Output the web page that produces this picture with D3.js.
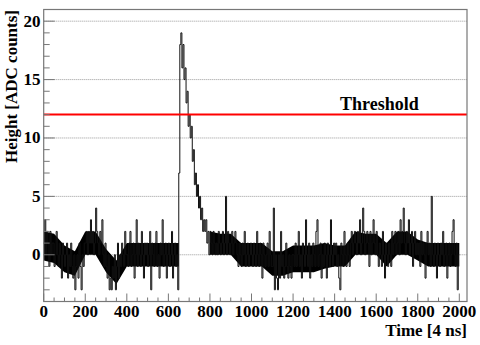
<!DOCTYPE html>
<html>
<head>
<meta charset="utf-8">
<script src="https://cdn.jsdelivr.net/npm/d3@7"></script>
<style>
  body { margin: 0; background: #fff; }
  text { font-family: "Liberation Serif", "Times New Roman", Times, serif; font-weight: bold; fill: #000; }
</style>
</head>
<body>
<div id="chart"></div>
<script>
// ----------------------------- DATA -----------------------------------------
// waveform, one value every 5 time units [4 ns]
var binWidth = 5;

// 0 - 645
var noiseBefore = [
    1, 3, 0, 2, 1, -1, 2, 0, 1, 1, -1, 0, 2, 0, -1, 1, 0, -2, 1, 0,
    -1, 0, 1, -2, 0, -1, 1, -1, -2, 0, -3, -1, 0, -2, 1, -1, -3, 0, -1, 1,
    1, 2, 0, 2, 1, 3, 1, 2, 0, 1, 4, 2, 1, 0, 2, 1, 3, 0, -1, 1,
    -1, -2, 0, -3, -2, -3, -1, -2, 0, -3, -1, 1, -2, 0, -1, 1, 0, -1, 2, 0,
    0, -1, 1, 2, -1, 0, 1, -2, 0, 3, -1, 1, 0, -1, 2, 0, -2, 1, 0, 1,
    -1, 0, 2, -3, 1, 0, -1, 1, 2, -1, 0, -2, 1, 0, 3, -1, 0, 1, -2, 0,
    1, -1, 0, 2, -2, 0, 1, -1, 0, -3
];

// 650 - 825
var pulse = [
    7, 18, 19, 16, 18, 15, 16, 13, 14, 11, 12, 10, 11, 8, 9, 6, 7, 5,
    6, 4, 5, 3, 4, 2, 3, 2, 3, 1, 2, 0, 2, 1, 0, 2, 1, 0
];

// 830 - 1995
var noiseAfter = [
    1, 0, 2, 1, 0, 1, 2, 0, 1, 5, 0, 2, 1, 0,
    1, 2, 0, 1, 2, 1, 0, -1, 1, 0, -1, 1, 0, 2, -1, 0, 1, -1, 0, 1,
    0, -1, 1, 0, -1, 2, 0, -1, 1, 0, -2, 1, 0, -1, 0, 1, -1, 2, 0, -1,
    -1, 4, -3, 0, -2, -3, 0, -2, 2, -1, 0, -2, -1, 1, -1, -2, 0, -1, -2, 0,
    0, -1, 1, -1, 0, 2, -1, 0, -2, 1, 0, -1, 3, 0, -1, 1, -2, 0, -1, 1,
    0, -1, 2, 3, -1, 0, 1, -2, 0, -1, 1, 0, -2, 1, 0, -1, 3, 0, -1, 1,
    0, 1, -1, 0, -2, -3, 1, 0, -1, 2, 0, -1, 1, 0, -1, 1, 2, 0, 1, 2,
    1, 0, 2, 1, 3, 0, 1, 4, 2, 0, 1, 2, 1, -1, 2, 0, 1, 3, 1, 0,
    2, 0, -1, 1, 0, -1, 2, 0, -2, 1, 0, -1, 1, 0, -1, 2, 0, 1, 2, 0,
    1, 2, 0, 3, 1, 2, 4, 1, 0, 2, 1, 3, 0, 1, 2, -1, 1, 2, 0, 1,
    0, 1, -1, 2, 0, 1, 0, -2, 1, 2, 0, 1, -1, 5, 0, -1, 1, 0, -2, 1,
    0, -1, 1, 0, 2, -1, 0, 1, -2, 0, 1, -1, 0, 2, 3, 0, -1, 1, -3, 0
];

// solid black part of the noise band, every 50 time units (null = pulse)
var bandTimes = [0, 50, 100, 150, 200, 250, 300, 350, 400, 450, 500, 550, 600, 650,
    700, 750, 800, 850, 900, 950, 1000, 1050, 1100, 1150, 1200, 1250, 1300, 1350,
    1400, 1450, 1500, 1550, 1600, 1650, 1700, 1750, 1800, 1850, 1900, 1950, 2000];
var bandLow = [-0.5, -0.7, -1.5, -1.8, 0, 0, -1.5, -2.5, -1, -1, -1, -1, -1, -1,
    null, null, 0, 0, 0, -1, -1, -1, -1.8, -1.8, -1.5, -1.5, -1.5, -1.2,
    -1, -1, 0, 0, 0, -1, 0, 0, -0.5, -1, -1, -1, -1];
var bandHigh = [2, 1.8, 0.8, 0.3, 2, 2, 0.5, -0.5, 1, 1, 1, 1, 1, 1,
    null, null, 2, 1.8, 1.8, 1, 1, 1, 0.3, 0.3, 0.8, 0.8, 0.8, 1,
    0.8, 0.8, 2, 1.8, 1.8, 1, 2, 2, 1.3, 1, 1, 1, 1];

var xTicks = [0, 200, 400, 600, 800, 1000, 1200, 1400, 1600, 1800, 2000];
var yTicks = [0, 5, 10, 15, 20];
var threshold = 12;

// ----------------------------- SVG SETUP ------------------------------------
(function() {
    var width = 480,
        height = 345;

    var svg = d3.select("#chart")
        .append("svg")
        .attr("width", width)
        .attr("height", height);

    var left = 43.7, right = 467, top = 9.5, bottom = 301.5;

    var x = d3.scaleLinear().domain([0, 2037]).range([left, right]);
    var y = d3.scaleLinear().domain([-4, 21]).range([bottom, top]);

    // grid (horizontal only, dotted)
    svg.append("g")
        .selectAll("line")
        .data(yTicks)
        .enter().append("line")
        .attr("x1", left).attr("x2", right)
        .attr("y1", function(d) { return y(d); })
        .attr("y2", function(d) { return y(d); })
        .attr("stroke", "#999")
        .attr("stroke-width", 1)
        .attr("stroke-dasharray", "1,1");

    // ------------------------- WAVEFORM -------------------------------------
    // dense noise band (the 2000 bins blur into a solid band at this size)
    var band = bandTimes.map(function(t, i) {
        return { t: t, lo: bandLow[i], hi: bandHigh[i] };
    });

    var area = d3.area()
        .defined(function(d) { return d.lo !== null; })
        .x(function(d) { return x(d.t); })
        .y0(function(d) { return y(d.lo); })
        .y1(function(d) { return y(d.hi); });

    svg.append("path")
        .datum(band)
        .attr("d", area)
        .attr("fill", "#000");

    var values = noiseBefore.concat(pulse, noiseAfter);
    var points = values.map(function(v, i) { return { t: i * binWidth, v: v }; });
    points.push({ t: values.length * binWidth, v: values[values.length - 1] });

    var line = d3.line()
        .x(function(d) { return x(d.t); })
        .y(function(d) { return y(d.v); })
        .curve(d3.curveStepAfter);

    svg.append("path")
        .datum(points)
        .attr("d", line)
        .attr("fill", "none")
        .attr("stroke", "#111")
        .attr("stroke-width", 1);

    // threshold line
    svg.append("line")
        .attr("x1", left).attr("x2", right)
        .attr("y1", y(threshold)).attr("y2", y(threshold))
        .attr("stroke", "#ff0000")
        .attr("stroke-width", 2);

    svg.append("text")
        .attr("x", 340)
        .attr("y", 110)
        .style("font-size", "18px")
        .text("Threshold");

    // ------------------------- AXES / FRAME ---------------------------------
    svg.append("rect")
        .attr("x", left).attr("y", top)
        .attr("width", right - left).attr("height", bottom - top)
        .attr("fill", "none")
        .attr("stroke", "#777")
        .attr("stroke-width", 1.2);

    // x ticks (inside, pointing up)
    var xMinor = d3.range(0, 2001, 50);
    svg.append("g")
        .selectAll("line")
        .data(xMinor)
        .enter().append("line")
        .attr("x1", function(d) { return x(d); })
        .attr("x2", function(d) { return x(d); })
        .attr("y1", bottom)
        .attr("y2", function(d) { return d % 200 === 0 ? bottom - 8 : bottom - 4; })
        .attr("stroke", "#777");

    svg.append("g")
        .selectAll("text")
        .data(xTicks)
        .enter().append("text")
        .attr("x", function(d) { return x(d); })
        .attr("y", 317)
        .attr("text-anchor", "middle")
        .style("font-size", "17px")
        .text(function(d) { return d; });

    // y ticks (inside, pointing right)
    var yMinor = d3.range(-3, 21, 1);
    svg.append("g")
        .selectAll("line")
        .data(yMinor)
        .enter().append("line")
        .attr("x1", left)
        .attr("x2", function(d) { return d % 5 === 0 ? left + 11 : left + 6; })
        .attr("y1", function(d) { return y(d); })
        .attr("y2", function(d) { return y(d); })
        .attr("stroke", "#777");

    svg.append("g")
        .selectAll("text")
        .data(yTicks)
        .enter().append("text")
        .attr("x", 40.5)
        .attr("y", function(d) { return y(d) + 5.5; })
        .attr("text-anchor", "end")
        .style("font-size", "17px")
        .text(function(d) { return d; });

    // axis titles
    svg.append("text")
        .attr("transform", "translate(16.5,10) rotate(-90)")
        .attr("text-anchor", "end")
        .style("font-size", "17px")
        .text("Height [ADC counts]");

    svg.append("text")
        .attr("x", right)
        .attr("y", 336)
        .attr("text-anchor", "end")
        .style("font-size", "17px")
        .text("Time [4 ns]");
})();
</script>
</body>
</html>
